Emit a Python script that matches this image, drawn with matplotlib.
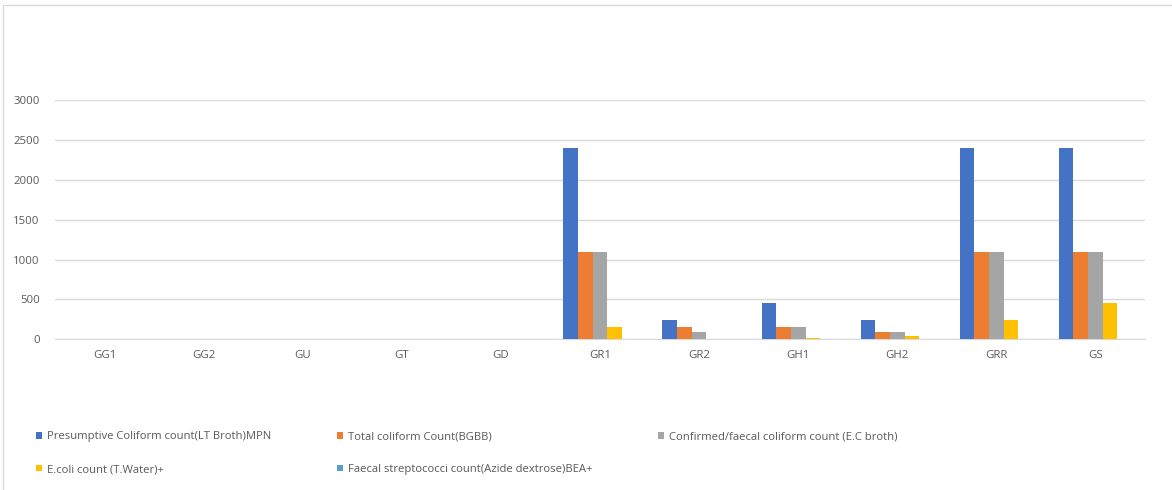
import matplotlib.pyplot as plt
import numpy as np
from matplotlib.patches import Rectangle

# Sites and counts per test
sites = ["GG1", "GG2", "GU", "GT", "GD", "GR1", "GR2", "GH1", "GH2", "GRR", "GS"]
presumptive = [0, 0, 0, 0, 0, 2400, 240, 460, 240, 2400, 2400]
total_coliform = [0, 0, 0, 0, 0, 1100, 150, 150, 93, 1100, 1100]
confirmed = [0, 0, 0, 0, 0, 1100, 93, 150, 93, 1100, 1100]
ecoli = [0, 0, 0, 0, 0, 150, 0, 15, 43, 240, 460]
faecal_strep = [0, 0, 0, 0, 0, 0, 0, 0, 0, 0, 0]

series = [
    ("Presumptive Coliform count(LT Broth)MPN", presumptive, "#4472C4"),
    ("Total coliform Count(BGBB)", total_coliform, "#ED7D31"),
    ("Confirmed/faecal coliform count (E.C broth)", confirmed, "#A5A5A5"),
    ("E.coli count (T.Water)+", ecoli, "#FFC000"),
    ("Faecal streptococci count(Azide dextrose)BEA+", faecal_strep, "#5B9BD5"),
]

plt.rcParams['font.family'] = ['Open Sans', 'DejaVu Sans']
txt = "#595959"

fig = plt.figure(figsize=(11.72, 4.90), dpi=100)
ax = fig.add_axes([55 / 1172, 1 - 339.3 / 490, 1090 / 1172, 239.3 / 490])

x = np.arange(len(sites))
w = 0.148
handles = []
for i, (name, vals, col) in enumerate(series):
    b = ax.bar(x + (i - 2) * w, vals, width=w, color=col, label=name, zorder=3)
    handles.append(b)

ax.set_xlim(-0.5, len(sites) - 0.5)
ax.set_ylim(0, 3000)
ax.set_yticks(range(0, 3001, 500))
ax.set_xticks(x)
ax.set_xticklabels(sites)
ax.yaxis.grid(True, color="#D9D9D9", linewidth=1, zorder=0)
for s in ["top", "right", "left"]:
    ax.spines[s].set_visible(False)
ax.spines["bottom"].set_color("#D9D9D9")
ax.tick_params(axis="both", length=0, labelsize=8.2, colors=txt)
ax.tick_params(axis="y", pad=11)
ax.tick_params(axis="x", pad=8)

# legend laid out row by row, three per row
order = [0, 3, 1, 4, 2]
leg = fig.legend([handles[k] for k in order], [series[k][0] for k in order],
                 ncol=3, loc="upper left", bbox_to_anchor=(26 / 1172, 1 - 421 / 490),
                 frameon=False, fontsize=8.1, handlelength=0.55, handleheight=0.55,
                 handletextpad=0.45, columnspacing=5.8, labelspacing=1.95,
                 labelcolor=txt)

# chart border
fig.patches.append(Rectangle((3 / 1172, -0.1), 1.2, 1 - 5 / 490 + 0.1,
                             transform=fig.transFigure, fill=False,
                             edgecolor="#D9D9D9", linewidth=1))

fig.savefig("out.png", dpi=100)
